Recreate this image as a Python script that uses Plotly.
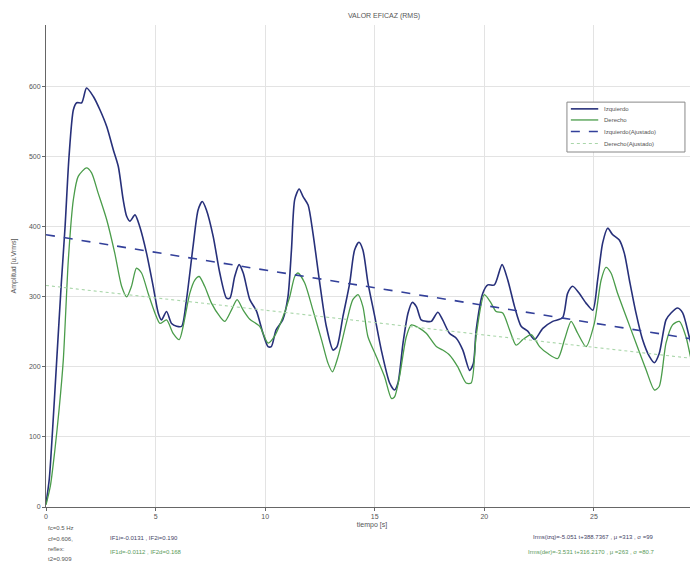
import plotly.graph_objects as go

# ---- data ----
t_izq = [0.0, 0.15, 0.3, 0.49, 0.7, 0.87, 1.05, 1.25, 1.4, 1.63, 1.85, 2.16, 2.46, 2.77, 3.07, 3.3, 3.52, 3.68,
         3.83, 4.06, 4.28, 4.59, 4.89, 5.12, 5.27, 5.5, 5.73, 5.96, 6.19, 6.41, 6.71, 6.94, 7.13, 7.32, 7.63,
         7.93, 8.24, 8.39, 8.61, 8.81, 9.0, 9.3, 9.6, 9.9, 10.13, 10.28, 10.5, 10.8, 11.04, 11.2, 11.35, 11.55,
         11.73, 11.96, 12.18, 12.49, 12.79, 13.1, 13.28, 13.55, 13.86, 14.08, 14.28, 14.46, 14.69, 15.0, 15.3,
         15.68, 15.9, 16.06, 16.29, 16.52, 16.71, 16.9, 17.12, 17.35, 17.58, 17.88, 18.1, 18.41, 18.72, 19.02,
         19.33, 19.5, 19.63, 19.93, 20.16, 20.46, 20.81, 21.07, 21.38, 21.68, 21.98, 22.29, 22.67, 23.12, 23.57,
         23.8, 24.03, 24.33, 24.64, 24.95, 25.17, 25.4, 25.63, 25.85, 26.16, 26.39, 26.62, 26.92, 27.22, 27.53,
         27.76, 27.98, 28.29, 28.52, 28.82, 29.05, 29.35, 29.66, 29.8]
izquierdo = [5, 40, 110, 210, 320, 400, 500, 567, 577, 577, 598, 586, 567, 543, 510, 486, 439, 415,
             408, 417, 400, 362, 315, 277, 267, 279, 262, 258, 258, 296, 372, 424, 436, 424, 386,
             334, 298, 298, 329, 346, 334, 296, 280, 248, 229, 229, 253, 267, 300, 367, 439, 454,
             443, 431, 391, 320, 258, 224, 229, 272, 320, 367, 378, 367, 320, 272, 224,
             177, 167, 177, 234, 277, 292, 286, 267, 265, 265, 278, 267, 248, 241, 224,
             195, 205, 253, 305, 317, 317, 346, 324, 286, 258, 251, 239, 255, 265, 270,
             305, 315, 305, 291, 281, 324, 377, 398, 389, 381, 362, 324, 277, 239, 215,
             206, 219, 267, 277, 284, 277, 243, 205, 190]

t_der = [0.0, 0.2, 0.4, 0.6, 0.79, 1.02, 1.25, 1.47, 1.85, 2.08, 2.38, 2.77, 3.14, 3.45, 3.68, 3.9, 4.13, 4.36,
         4.66, 4.97, 5.2, 5.5, 5.8, 6.08, 6.26, 6.56, 6.79, 6.99, 7.24, 7.55, 7.93, 8.16, 8.46, 8.72, 9.0, 9.3,
         9.75, 10.13, 10.43, 10.82, 11.12, 11.35, 11.5, 11.8, 12.18, 12.57, 12.87, 13.07, 13.33, 13.7, 14.0,
         14.24, 14.46, 14.69, 15.07, 15.45, 15.76, 15.9, 16.13, 16.44, 16.67, 17.05, 17.35, 17.81, 18.1, 18.41,
         18.79, 19.17, 19.4, 19.63, 20.0, 20.31, 20.54, 20.84, 21.15, 21.45, 21.76, 22.14, 22.52, 22.9, 23.35,
         23.66, 23.96, 24.26, 24.64, 25.02, 25.33, 25.55, 25.78, 26.08, 26.47, 26.92, 27.38, 27.76, 27.98,
         28.29, 28.59, 28.9, 29.2, 29.5, 29.73]
derecho = [3, 30, 80, 140, 210, 353, 439, 472, 484, 477, 448, 410, 362, 315, 300, 315, 341, 334,
           305, 277, 262, 267, 248, 239, 258, 305, 324, 329, 315, 291, 272, 265, 281, 296, 281, 268,
           258, 234, 244, 272, 300, 329, 334, 320, 281, 239, 205, 193, 215, 262, 296,
           303, 286, 243, 215, 186, 155, 157, 186, 243, 260, 255, 248, 229, 224, 217,
           200, 177, 177, 245, 303, 291, 279, 277, 253, 231, 239, 246, 229, 219, 212,
           239, 265, 248, 229, 262, 324, 342, 334, 305, 272, 234, 196, 167, 172,
           234, 260, 265, 243, 200, 167]

t_fit = [0.0, 30.0]
izq_fit = [388.7, 237.2]
der_fit = [316.2, 210.3]

x_ticks = [0, 5, 10, 15, 20, 25]
y_ticks = [0, 100, 200, 300, 400, 500, 600]
legend_names = ["Izquierdo", "Derecho", "Izquierdo(Ajustado)", "Derecho(Ajustado)"]

BLUE = "#27307a"
GREEN = "#4a9c4a"
FIT_BLUE = "#33409a"
FIT_GREEN = "#a9d6a9"
FONT = "Liberation Sans"

styles = [dict(color=BLUE, width=1.6), dict(color=GREEN, width=1.3),
          dict(color=FIT_BLUE, width=1.6, dash="dash"), dict(color=FIT_GREEN, width=1.1, dash="dot")]

fig = go.Figure()
fig.add_trace(go.Scatter(x=t_izq, y=izquierdo, mode="lines", name=legend_names[0],
                         line=dict(**styles[0], shape="spline", smoothing=0.7)))
fig.add_trace(go.Scatter(x=t_der, y=derecho, mode="lines", name=legend_names[1],
                         line=dict(**styles[1], shape="spline", smoothing=0.7)))
fig.add_trace(go.Scatter(x=t_fit, y=izq_fit, mode="lines", name=legend_names[2], line=styles[2]))
fig.add_trace(go.Scatter(x=t_fit, y=der_fit, mode="lines", name=legend_names[3], line=styles[3]))

# page has an 8px body margin: figure is 690x559 drawn at offset (8, 8)
fig.update_layout(
    width=690, height=559,
    margin=dict(l=38, r=0, t=17, b=60, autoexpand=False),
    paper_bgcolor="white", plot_bgcolor="white",
    font=dict(family=FONT, size=7, color="#555555"),
    title=dict(text="VALOR EFICAZ (RMS)", x=0.545, xanchor="center", y=0.987, yanchor="middle",
               font=dict(size=7, color="#555555")),
    showlegend=False,
)
fig.update_xaxes(range=[0, 29.75], tickvals=x_ticks, showgrid=True, gridcolor="#e3e3e3", gridwidth=1,
                 showline=True, linecolor="#666666", linewidth=1, ticks="outside", ticklen=3,
                 tickcolor="#666666", zeroline=False, tickfont=dict(size=7), automargin=False,
                 title=dict(text="tiempo [s]", font=dict(size=7), standoff=2))
fig.update_yaxes(range=[0, 688], tickvals=y_ticks, showgrid=True, gridcolor="#e3e3e3", gridwidth=1,
                 showline=True, linecolor="#666666", linewidth=1, ticks="outside", ticklen=3,
                 tickcolor="#666666", zeroline=False, tickfont=dict(size=7), automargin=False,
                 title=dict(text="Amplitud [u.Vrms]", font=dict(size=7), standoff=11))

# compact legend box (MATLAB style)
fig.add_shape(type="rect", xref="paper", yref="paper", x0=0.799, x1=0.980, y0=0.7365, y1=0.840,
              line=dict(color="#888888", width=1), fillcolor="white", layer="above")
row_y = [0.826, 0.803, 0.779, 0.754]
for name, st, yy in zip(legend_names, styles, row_y):
    fig.add_shape(type="line", xref="paper", yref="paper", x0=0.805, x1=0.847, y0=yy, y1=yy,
                  line=st, layer="above")
    fig.add_annotation(x=0.852, y=yy, xref="paper", yref="paper", text=name, showarrow=False,
                       xanchor="left", yanchor="middle", font=dict(size=6, color="#555555"))

def note(x, y, text, color="#555555", anchor="left"):
    fig.add_annotation(x=x, y=y, xref="paper", yref="paper", text=text, showarrow=False,
                       xanchor=anchor, yanchor="middle", font=dict(size=6, color=color))

# left block
note(0.0, -0.044, "fc=0.5 Hz")
note(0.0, -0.066, "cf=0.606,")
note(0.0, -0.088, "reflex:")
note(0.0, -0.108, "t2=0.909")
note(0.095, -0.064, "IF1i=-0.0131 , IF2i=0.190", color="#444466")
note(0.095, -0.093, "IF1d=-0.0112 , IF2d=0.168", color="#5a9a5a")
note(0.935, -0.062, "Irms(izq)=-5.051 t+388.7367 , μ =313 , σ =99", color="#444466", anchor="right")
note(0.937, -0.093, "Irms(der)=-3.531 t+316.2170 , μ =263 , σ =80.7", color="#5a9a5a", anchor="right")

fig.write_html("out.html")
